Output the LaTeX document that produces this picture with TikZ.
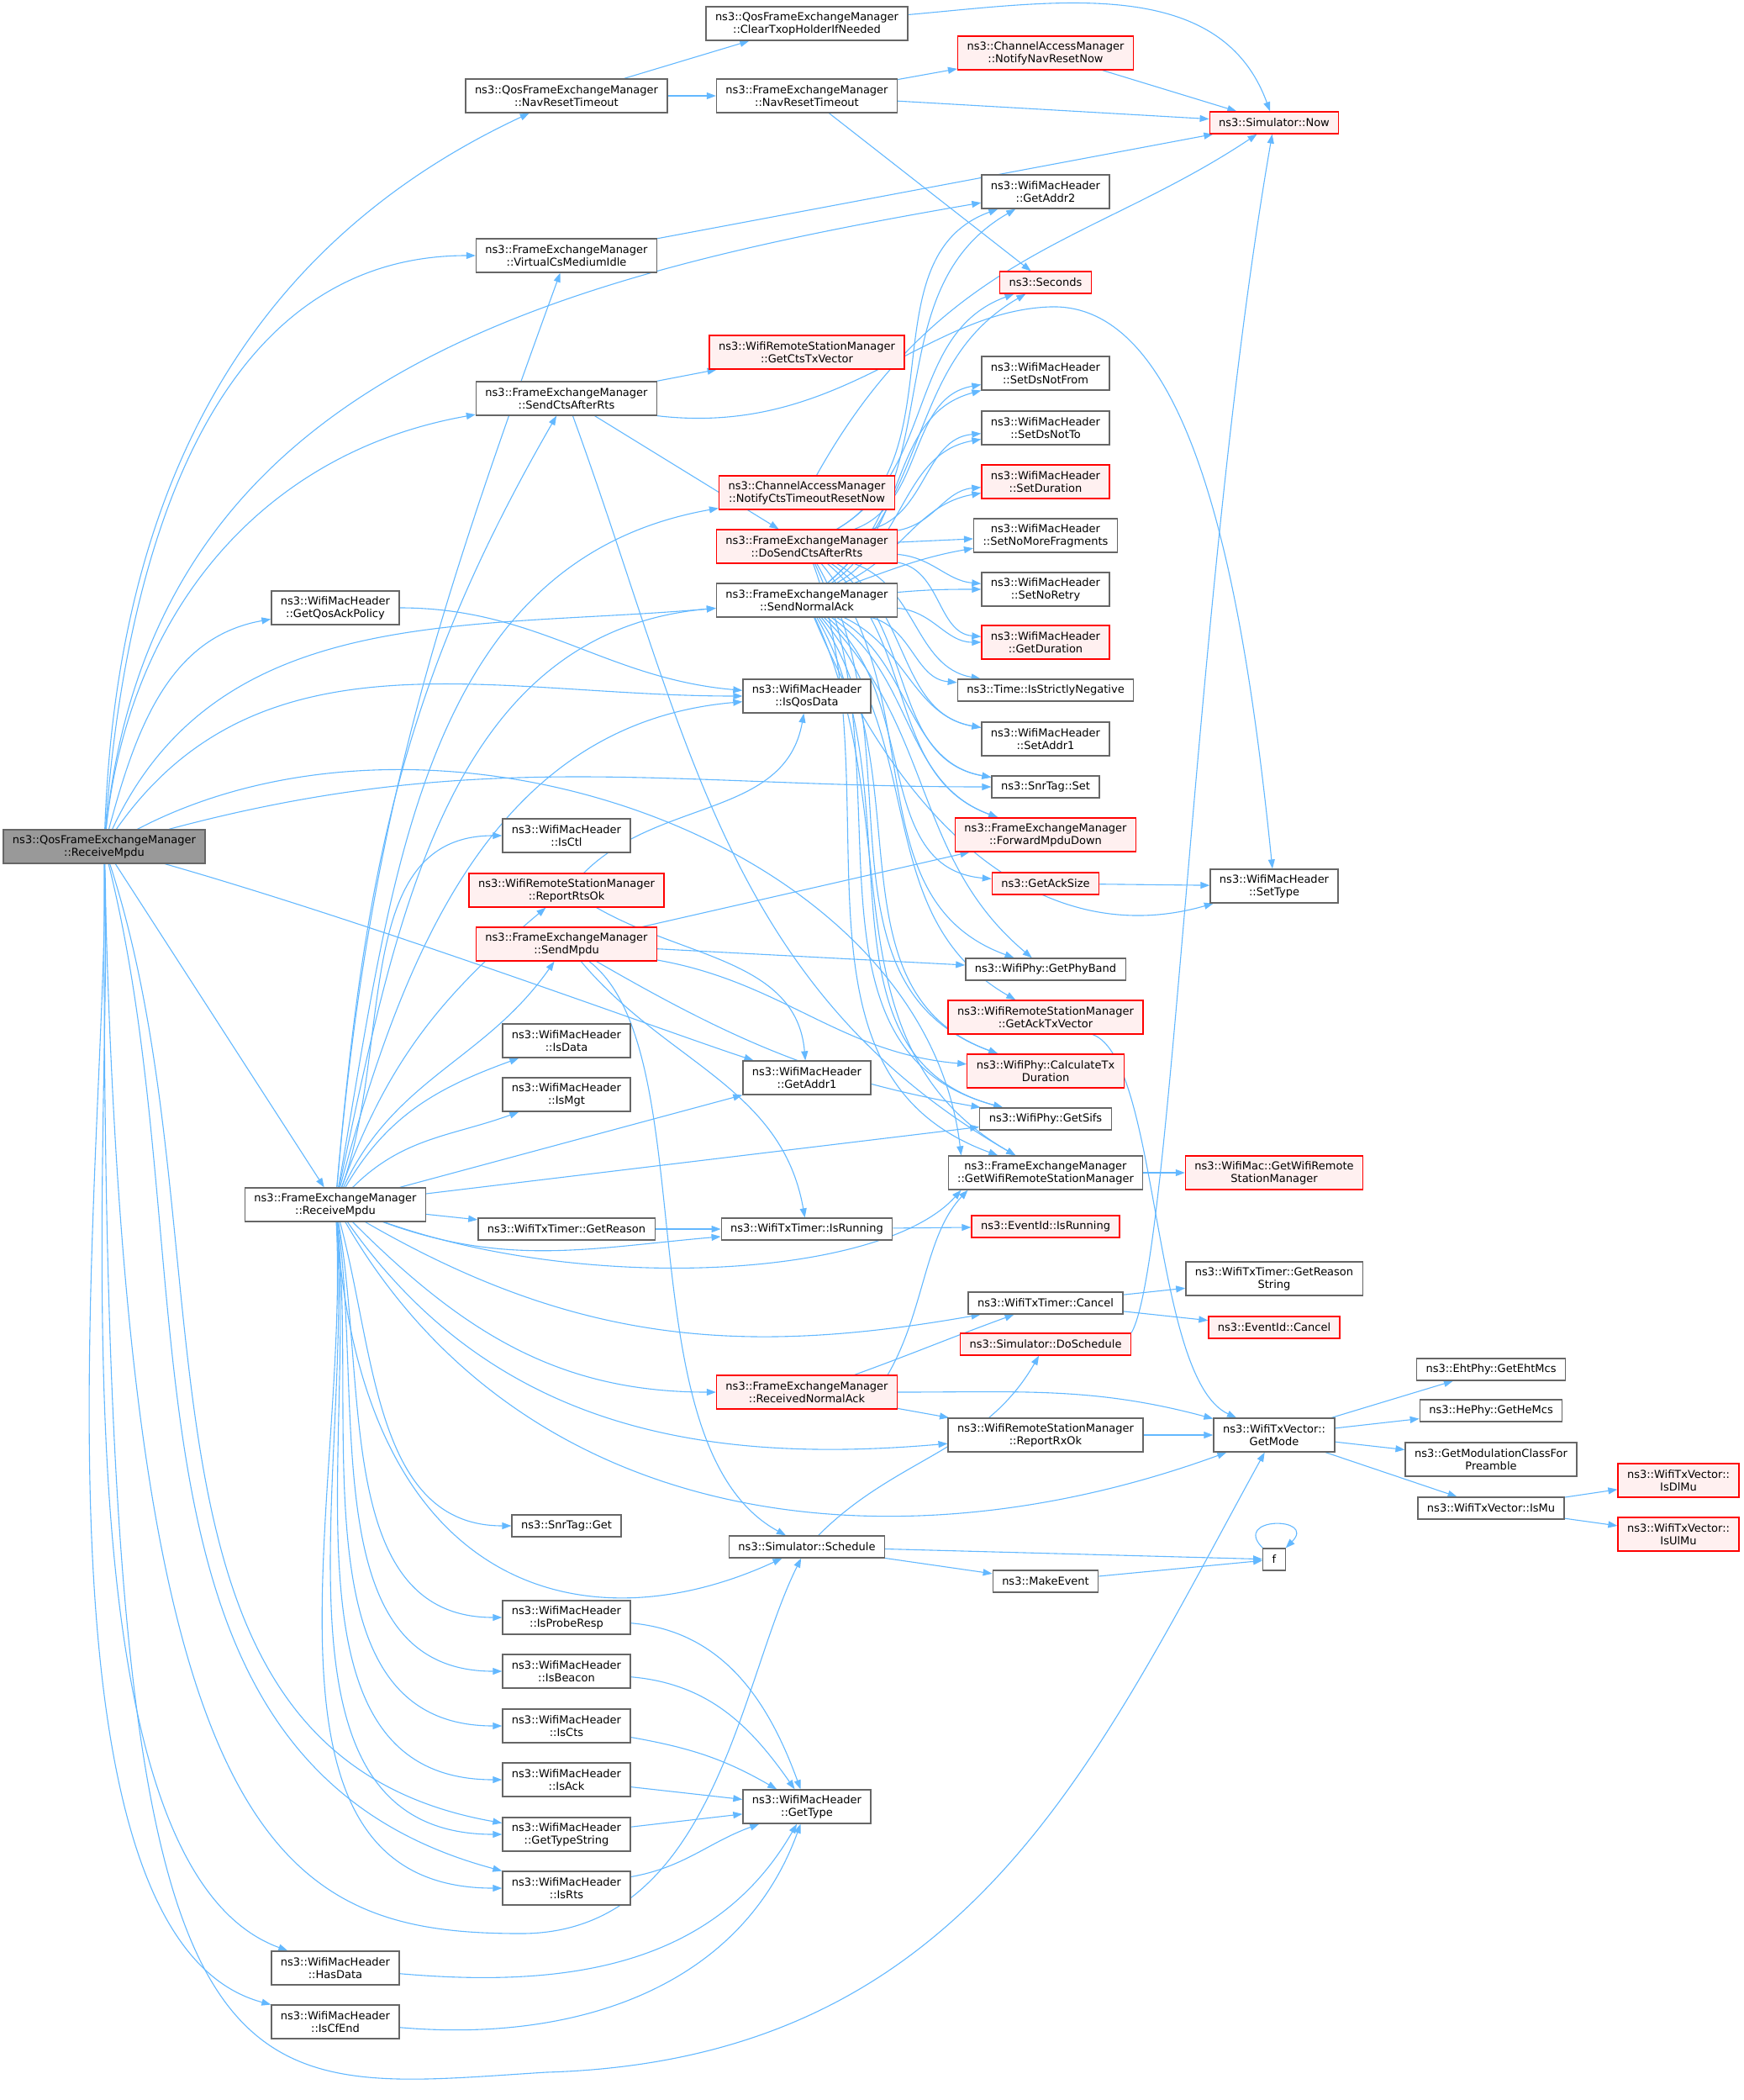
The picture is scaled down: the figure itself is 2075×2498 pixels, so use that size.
\documentclass[tikz,border=0pt]{standalone}
\usepackage{fontspec}
\setmainfont{DejaVu Sans}
\usetikzlibrary{arrows.meta}
\definecolor{edgeblue}{HTML}{63B8FF}
\definecolor{boxline}{HTML}{666666}
\definecolor{hotline}{HTML}{FF0000}
\definecolor{hotfill}{HTML}{FFF0F0}
\definecolor{rootfill}{HTML}{999999}
\pgfdeclarelayer{bg}
\pgfsetlayers{bg,main}
\tikzset{
  fn/.style={draw=boxline, fill=white, line width=0.65pt, align=center,
    font=\fontsize{6.5}{7.5}\selectfont, inner xsep=5.5pt, inner ysep=1pt,
    minimum height=13pt},
  two/.style={minimum height=20pt},
  hot/.style={fn, draw=hotline, fill=hotfill},
  root/.style={fn, fill=rootfill},
  e/.style={draw=edgeblue, line width=0.55pt, -{Triangle[length=5.5pt,width=4pt]}},
}
\begin{document}
\begin{tikzpicture}[x=0.5pt,y=-0.5pt]
	\useasboundingbox (0,0) rectangle (2075,2498);
	% first two columns
	\node[root,two] (rm) at (124,1007) {ns3::QosFrameExchangeManager\\::ReceiveMpdu};
	\node[fn,two] (qap) at (399,723) {ns3::WifiMacHeader\\::GetQosAckPolicy};
	\node[fn,two] (frm) at (399,1433) {ns3::FrameExchangeManager\\::ReceiveMpdu};
	\node[fn,two] (hasd) at (399,2341) {ns3::WifiMacHeader\\::HasData};
	\node[fn,two] (iscf) at (399,2405) {ns3::WifiMacHeader\\::IsCfEnd};
	% third column
	\node[fn,two] (qnav) at (674,114) {ns3::QosFrameExchangeManager\\::NavResetTimeout};
	\node[fn,two] (vcs) at (674,304) {ns3::FrameExchangeManager\\::VirtualCsMediumIdle};
	\node[fn,two] (scts) at (674,474) {ns3::FrameExchangeManager\\::SendCtsAfterRts};
	\node[fn,two] (isctl) at (674,994) {ns3::WifiMacHeader\\::IsCtl};
	\node[hot,two] (rrts) at (674,1059) {ns3::WifiRemoteStationManager\\::ReportRtsOk};
	\node[hot,two] (smpdu) at (674,1123) {ns3::FrameExchangeManager\\::SendMpdu};
	\node[fn,two] (isdata) at (674,1238) {ns3::WifiMacHeader\\::IsData};
	\node[fn,two] (ismgt) at (674,1302) {ns3::WifiMacHeader\\::IsMgt};
	\node[fn] (greason) at (674,1462) {ns3::WifiTxTimer::GetReason};
	\node[fn] (snrget) at (674,1815) {ns3::SnrTag::Get};
	\node[fn,two] (isprobe) at (674,1924) {ns3::WifiMacHeader\\::IsProbeResp};
	\node[fn,two] (isbeacon) at (674,1988) {ns3::WifiMacHeader\\::IsBeacon};
	\node[fn,two] (iscts) at (674,2053) {ns3::WifiMacHeader\\::IsCts};
	\node[fn,two] (isack) at (674,2117) {ns3::WifiMacHeader\\::IsAck};
	\node[fn,two] (gtstr) at (674,2182) {ns3::WifiMacHeader\\::GetTypeString};
	\node[fn,two] (isrts) at (674,2246) {ns3::WifiMacHeader\\::IsRts};
	% fourth column
	\node[fn,two] (clrtx) at (960,28) {ns3::QosFrameExchangeManager\\::ClearTxopHolderIfNeeded};
	\node[fn,two] (fnav) at (960,114) {ns3::FrameExchangeManager\\::NavResetTimeout};
	\node[hot,two] (gcts) at (960,419) {ns3::WifiRemoteStationManager\\::GetCtsTxVector};
	\node[hot,two] (ncts) at (960,586) {ns3::ChannelAccessManager\\::NotifyCtsTimeoutResetNow};
	\node[hot,two] (dosc) at (960,650) {ns3::FrameExchangeManager\\::DoSendCtsAfterRts};
	\node[fn,two] (sack) at (960,714) {ns3::FrameExchangeManager\\::SendNormalAck};
	\node[fn,two] (isqos) at (960,828) {ns3::WifiMacHeader\\::IsQosData};
	\node[fn,two] (addr1) at (960,1282) {ns3::WifiMacHeader\\::GetAddr1};
	\node[fn] (trun) at (960,1462) {ns3::WifiTxTimer::IsRunning};
	\node[hot,two] (rnack) at (960,1656) {ns3::FrameExchangeManager\\::ReceivedNormalAck};
	\node[fn] (sched) at (960,1840) {ns3::Simulator::Schedule};
	\node[fn,two] (gtype) at (960,2149) {ns3::WifiMacHeader\\::GetType};
	% fifth column
	\node[hot,two] (nnav) at (1244,63) {ns3::ChannelAccessManager\\::NotifyNavResetNow};
	\node[fn,two] (addr2) at (1244,228) {ns3::WifiMacHeader\\::GetAddr2};
	\node[hot] (secs) at (1244,336) {ns3::Seconds};
	\node[fn,two] (dsfrom) at (1244,444) {ns3::WifiMacHeader\\::SetDsNotFrom};
	\node[fn,two] (dsto) at (1244,509) {ns3::WifiMacHeader\\::SetDsNotTo};
	\node[hot,two] (sdur) at (1244,573) {ns3::WifiMacHeader\\::SetDuration};
	\node[fn,two] (nomf) at (1244,637) {ns3::WifiMacHeader\\::SetNoMoreFragments};
	\node[fn,two] (noretry) at (1244,701) {ns3::WifiMacHeader\\::SetNoRetry};
	\node[hot,two] (gdur) at (1244,764) {ns3::WifiMacHeader\\::GetDuration};
	\node[fn] (strneg) at (1244,821) {ns3::Time::IsStrictlyNegative};
	\node[fn,two] (saddr1) at (1244,879) {ns3::WifiMacHeader\\::SetAddr1};
	\node[fn] (snrset) at (1244,936) {ns3::SnrTag::Set};
	\node[hot,two] (fwd) at (1244,993) {ns3::FrameExchangeManager\\::ForwardMpduDown};
	\node[hot] (acksize) at (1244,1051) {ns3::GetAckSize};
	\node[fn] (phyband) at (1244,1153) {ns3::WifiPhy::GetPhyBand};
	\node[hot,two] (acktx) at (1244,1210) {ns3::WifiRemoteStationManager\\::GetAckTxVector};
	\node[hot,two] (caltx) at (1244,1274) {ns3::WifiPhy::CalculateTx\\Duration};
	\node[fn] (sifs) at (1244,1331) {ns3::WifiPhy::GetSifs};
	\node[fn,two] (gwrsm) at (1244,1395) {ns3::FrameExchangeManager\\::GetWifiRemoteStationManager};
	\node[hot] (erun) at (1244,1459) {ns3::EventId::IsRunning};
	\node[fn] (tcancel) at (1244,1550) {ns3::WifiTxTimer::Cancel};
	\node[hot] (dosched) at (1244,1599) {ns3::Simulator::DoSchedule};
	\node[fn,two] (rrx) at (1244,1707) {ns3::WifiRemoteStationManager\\::ReportRxOk};
	\node[fn] (mkev) at (1244,1881) {ns3::MakeEvent};
	% sixth column
	\node[hot] (now) at (1516,146) {ns3::Simulator::Now};
	\node[fn,two] (stype) at (1516,1054) {ns3::WifiMacHeader\\::SetType};
	\node[hot,two] (macrsm) at (1516,1395) {ns3::WifiMac::GetWifiRemote\\StationManager};
	\node[fn,two] (grstr) at (1516,1521) {ns3::WifiTxTimer::GetReason\\String};
	\node[hot] (ecancel) at (1516,1579) {ns3::EventId::Cancel};
	\node[fn,two] (gmode) at (1516,1707) {ns3::WifiTxVector::\\GetMode};
	\node[fn] (ff) at (1516,1855) {f};
	% last columns
	\node[fn] (eht) at (1774,1629) {ns3::EhtPhy::GetEhtMcs};
	\node[fn] (he) at (1774,1678) {ns3::HePhy::GetHeMcs};
	\node[fn,two] (gmcp) at (1774,1736) {ns3::GetModulationClassFor\\Preamble};
	\node[fn] (ismu) at (1774,1794) {ns3::WifiTxVector::IsMu};
	\node[hot,two] (isdl) at (1997,1761) {ns3::WifiTxVector::\\IsDlMu};
	\node[hot,two] (isul) at (1997,1825) {ns3::WifiTxVector::\\IsUlMu};
	\begin{pgfonlayer}{bg}
	% calls of the root
	\draw[e] (rm) to[out=88,in=205] (qnav);
	\draw[e] (rm) to[out=86,in=180] (vcs);
	\draw[e] (rm) to[out=84,in=190] (scts);
	\draw[e] (rm) .. controls (180,450) and (650,330) .. (addr2);
	\draw[e] (rm) to[out=75,in=190] (qap);
	\draw[e] (rm) to[out=65,in=185] (sack);
	\draw[e] (rm) to[out=55,in=180] (isqos);
	\draw[e] (rm) to[out=15,in=180] (snrset);
	\draw[e] (rm) .. controls (520,800) and (1100,1000) .. ([xshift=8pt]gwrsm.north west);
	\draw[e] (rm) -- (frm);
	\draw[e] (rm) .. controls (450,1100) and (800,1230) .. (addr1);
	\draw[e] (rm) to[out=-72,in=170] (gtstr);
	\draw[e] (rm) to[out=-76,in=165] (isrts);
	\draw[e] (rm) .. controls (150,2200) and (330,2300) .. (620,2300) .. controls (850,2300) and (880,2000) .. (sched);
	\draw[e] (rm) to[out=-88,in=160,looseness=0.6] (hasd);
	\draw[e] (rm) to[out=-89,in=165,looseness=0.6] (iscf);
	\draw[e] (rm) .. controls (120,2550) and (250,2490) .. (650,2465) .. controls (1150,2450) and (1300,2100) .. (gmode);
	% FrameExchangeManager::ReceiveMpdu
	\draw[e] (frm) to[out=85,in=-110] (vcs);
	\draw[e] (frm) to[out=85,in=-120] (scts);
	\draw[e] (frm) to[out=80,in=190] (ncts);
	\draw[e] (frm) to[out=78,in=185] (sack);
	\draw[e] (frm) to[out=75,in=185] (isqos);
	\draw[e] (frm) to[out=70,in=180] (isctl);
	\draw[e] (frm) to[out=70,in=220] (rrts);
	\draw[e] (frm) to[out=65,in=235] (smpdu);
	\draw[e] (frm) to[out=60,in=200] (isdata);
	\draw[e] (frm) to[out=45,in=200] (ismgt);
	\draw[e] (frm) -- (addr1);
	\draw[e] (frm) -- (sifs);
	\draw[e] (frm) -- (greason);
	\draw[e] (frm) to[out=-20,in=185] (trun);
	\draw[e] (frm) .. controls (700,1540) and (1050,1520) .. ([xshift=8pt]gwrsm.south west);
	\draw[e] (frm) to[out=-30,in=190] (tcancel);
	\draw[e] (frm) to[out=-45,in=180] (rnack);
	\draw[e] (frm) to[out=-55,in=185] (rrx);
	\draw[e] (frm) to[out=-60,in=200] (gmode);
	\draw[e] (frm) to[out=-75,in=180] (snrget);
	\draw[e] (frm) .. controls (430,1900) and (700,1960) .. (sched);
	\draw[e] (frm) to[out=-80,in=180] (isprobe);
	\draw[e] (frm) to[out=-82,in=180] (isbeacon);
	\draw[e] (frm) to[out=-84,in=180] (iscts);
	\draw[e] (frm) to[out=-85,in=180] (isack);
	\draw[e] (frm) to[out=-86,in=180] (gtstr);
	\draw[e] (frm) to[out=-87,in=180] (isrts);
	% upper part
	\draw[e] (qnav) -- (clrtx);
	\draw[e] (qnav) -- (fnav);
	\draw[e] (clrtx) to[out=5,in=110] (now);
	\draw[e] (fnav) -- (nnav);
	\draw[e] (fnav) -- (now);
	\draw[e] (fnav) -- (secs);
	\draw[e] (nnav) -- (now);
	\draw[e] (vcs) -- (now);
	\draw[e] (ncts) .. controls (1120,300) and (1300,290) .. (now);
	\draw[e] (dosched.north east) .. controls (1395,1500) and (1420,700) .. (now);
	\draw[e] (scts) -- (gcts);
	\draw[e] (scts) -- (dosc);
	\draw[e] (scts.south east) .. controls (1000,520) and (1100,370) .. (1250,365) .. controls (1420,360) and (1480,700) .. (stype);
	\draw[e] (scts) to[out=-70,in=150] (gwrsm);
	\draw[e] (qap) to[out=0,in=175] (isqos);
	% DoSendCtsAfterRts
	\draw[e] (dosc) to[out=30,in=200] (addr2);
	\draw[e] (dosc) to[out=30,in=200] (secs);
	\draw[e] (dosc) to[out=20,in=190] (dsfrom);
	\draw[e] (dosc) to[out=15,in=185] (dsto);
	\draw[e] (dosc) to[out=10,in=185] (sdur);
	\draw[e] (dosc) -- (nomf);
	\draw[e] (dosc) to[out=-5,in=175] (noretry);
	\draw[e] (dosc) to[out=-10,in=175] (gdur);
	\draw[e] (dosc) to[out=-20,in=170] (strneg);
	\draw[e] (dosc) to[out=-30,in=170] (saddr1);
	\draw[e] (dosc) to[out=-35,in=170] (snrset);
	\draw[e] (dosc) to[out=-40,in=160] (fwd);
	\draw[e] (dosc) to[out=-50,in=160] (phyband);
	\draw[e] (dosc) to[out=-60,in=160] (caltx);
	\draw[e] (dosc) to[out=-65,in=165] (sifs);
	\draw[e] (dosc) to[out=-70,in=160] (gwrsm);
	% SendNormalAck
	\draw[e] (sack) to[out=40,in=210] (addr2);
	\draw[e] (sack) to[out=40,in=210] (secs);
	\draw[e] (sack) to[out=35,in=195] (dsfrom);
	\draw[e] (sack) to[out=30,in=190] (dsto);
	\draw[e] (sack) to[out=25,in=190] (sdur);
	\draw[e] (sack) to[out=20,in=190] (nomf);
	\draw[e] (sack) to[out=5,in=180] (noretry);
	\draw[e] (sack) to[out=-5,in=180] (gdur);
	\draw[e] (sack) to[out=-15,in=175] (strneg);
	\draw[e] (sack) to[out=-25,in=170] (saddr1);
	\draw[e] (sack) to[out=-30,in=170] (snrset);
	\draw[e] (sack) to[out=-35,in=160] (fwd);
	\draw[e] (sack) to[out=-40,in=175] (acksize);
	\draw[e] (sack) .. controls (1080,1000) and (1250,1130) .. (stype);
	\draw[e] (sack) to[out=-45,in=140] (phyband);
	\draw[e] (sack) to[out=-50,in=150] (acktx);
	\draw[e] (sack) to[out=-55,in=160] (caltx);
	\draw[e] (sack) to[out=-60,in=165] (sifs);
	\draw[e] (sack) to[out=-65,in=150] (gwrsm);
	% middle part
	\draw[e] (rrts) to[out=45,in=-100] (isqos);
	\draw[e] (rrts) to[out=-30,in=95] (addr1);
	\draw[e] (smpdu) -- (fwd);
	\draw[e] (smpdu) -- (phyband);
	\draw[e] (smpdu) to[out=-10,in=175] (caltx);
	\draw[e] (smpdu) to[out=-30,in=170] (sifs);
	\draw[e] (smpdu) to[out=-50,in=100] (trun);
	\draw[e] (smpdu) .. controls (840,1250) and (740,1720) .. (sched);
	\draw[e] (acksize) -- (stype);
	\draw[e] (acktx) .. controls (1380,1260) and (1370,1640) .. (gmode);
	\draw[e] (gwrsm) -- (macrsm);
	\draw[e] (greason) -- (trun);
	\draw[e] (trun) -- (erun);
	\draw[e] (tcancel) -- (grstr);
	\draw[e] (tcancel) -- (ecancel);
	\draw[e] ([xshift=-6pt]rnack.north east) .. controls (1100,1560) and (1100,1470) .. ([xshift=12pt]gwrsm.south west);
	\draw[e] (rnack) to[out=20,in=200] (tcancel);
	\draw[e] (rnack) -- (rrx);
	\draw[e] (rnack) to[out=0,in=165] (gmode);
	\draw[e] (rrx) -- (gmode);
	\draw[e] (sched) to[out=45,in=-120] (dosched);
	\draw[e] (sched) -- (ff);
	\draw[e] (sched) -- (mkev);
	\draw[e] (mkev) -- (ff);
	\draw[e] (ff) to[out=135,in=45,looseness=5] (ff);
	% right part
	\draw[e] (gmode) -- (eht);
	\draw[e] (gmode) -- (he);
	\draw[e] (gmode) -- (gmcp);
	\draw[e] (gmode) -- (ismu);
	\draw[e] (ismu) -- (isdl);
	\draw[e] (ismu) -- (isul);
	% lower part
	\draw[e] (isprobe) to[out=-5,in=110] (gtype);
	\draw[e] (isbeacon) to[out=-5,in=125] (gtype);
	\draw[e] (iscts) to[out=-10,in=150] (gtype);
	\draw[e] (isack) -- (gtype);
	\draw[e] (gtstr) -- (gtype);
	\draw[e] (isrts) to[out=10,in=200] (gtype);
	\draw[e] (hasd) to[out=-5,in=-120] (gtype);
	\draw[e] (iscf) to[out=-5,in=-110] (gtype);
	\end{pgfonlayer}
\end{tikzpicture}
\end{document}
